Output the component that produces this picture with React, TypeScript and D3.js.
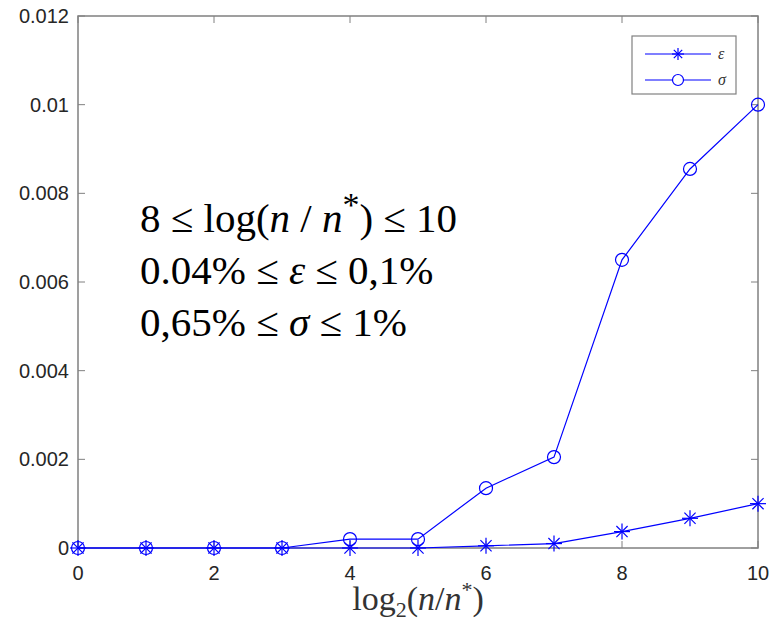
import React from "react";
import * as d3 from "d3";

const xs = [0, 1, 2, 3, 4, 5, 6, 7, 8, 9, 10];
const epsilon = [0, 0, 0, 0, 0, 0, 0.00005, 0.0001, 0.00037, 0.00067, 0.001];
const sigma = [0, 0, 0, 0, 0.0002, 0.0002, 0.00135, 0.00205, 0.0065, 0.00855, 0.01];
const xTicks = [0, 2, 4, 6, 8, 10];
const yTicks = [0, 0.002, 0.004, 0.006, 0.008, 0.01, 0.012];
const yTickLabels = ["0", "0.002", "0.004", "0.006", "0.008", "0.01", "0.012"];

const L = 78, R = 758, T = 16, B = 548;
const BLUE = "#0000ff";

function Star({ x, y, r = 8 }: { x: number; y: number; r?: number }) {
  const d = r * 0.7;
  return (
    <g stroke={BLUE} strokeWidth={1.2}>
      <line x1={x - r} y1={y} x2={x + r} y2={y} />
      <line x1={x} y1={y - r} x2={x} y2={y + r} />
      <line x1={x - d} y1={y - d} x2={x + d} y2={y + d} />
      <line x1={x - d} y1={y + d} x2={x + d} y2={y - d} />
    </g>
  );
}

export default function App() {
  const x = d3.scaleLinear().domain([0, 10]).range([L, R]);
  const y = d3.scaleLinear().domain([0, 0.012]).range([B, T]);
  const line = d3.line<number>().x((_, i) => x(xs[i])).y((d) => y(d));
  const axisColor = "#808080";
  const tickLen = 7;
  return (
    <svg width={771} height={622} style={{ position: "absolute", left: 0, top: 0, background: "#fff" }}>
      <rect x={0} y={0} width={771} height={622} fill="#fff" />
      {xTicks.map((t) => (
        <g key={"xt" + t} stroke={axisColor}>
          <line x1={x(t)} x2={x(t)} y1={B} y2={B - tickLen} />
          <line x1={x(t)} x2={x(t)} y1={T} y2={T + tickLen} />
        </g>
      ))}
      {yTicks.map((t) => (
        <g key={"yt" + t} stroke={axisColor}>
          <line x1={L} x2={L + tickLen} y1={y(t)} y2={y(t)} />
          <line x1={R} x2={R - tickLen} y1={y(t)} y2={y(t)} />
        </g>
      ))}
      <rect x={L} y={T} width={R - L} height={B - T} fill="none" stroke={axisColor} strokeWidth={1.5} />
      {xTicks.map((t) => (
        <text key={"xl" + t} x={x(t)} y={B + 32} textAnchor="middle" fontFamily="Liberation Sans, Arial, sans-serif" fontSize={20} fill="#262626">
          {t}
        </text>
      ))}
      {yTicks.map((t, i) => (
        <text key={"yl" + t} x={L - 9} y={y(t) + 7} textAnchor="end" fontFamily="Liberation Sans, Arial, sans-serif" fontSize={20} fill="#262626">
          {yTickLabels[i]}
        </text>
      ))}
      <path d={line(sigma) || ""} fill="none" stroke={BLUE} strokeWidth={1.2} />
      <path d={line(epsilon) || ""} fill="none" stroke={BLUE} strokeWidth={1.2} />
      {sigma.map((v, i) => (
        <circle key={"s" + i} cx={x(xs[i])} cy={y(v)} r={6.5} fill="none" stroke={BLUE} strokeWidth={1.2} />
      ))}
      {epsilon.map((v, i) => (
        <Star key={"e" + i} x={x(xs[i])} y={y(v)} />
      ))}
      <rect x={632} y={36} width={104} height={58} fill="#fff" stroke={axisColor} strokeWidth={1.2} />
      <line x1={645} x2={711} y1={54} y2={54} stroke={BLUE} strokeWidth={1.2} />
      <Star x={678} y={54} r={6} />
      <line x1={645} x2={711} y1={80} y2={80} stroke={BLUE} strokeWidth={1.2} />
      <circle cx={678} cy={80} r={5.5} fill="#fff" stroke={BLUE} strokeWidth={1.2} />
      <text x={718} y={59} fontFamily="Liberation Serif, serif" fontStyle="italic" fontSize={16} fill="#333">ε</text>
      <text x={718} y={85} fontFamily="Liberation Serif, serif" fontStyle="italic" fontSize={16} fill="#333">σ</text>
      <g fontFamily="Liberation Serif, Times New Roman, serif" fontSize={41} fill="#000">
        <text x={140} y={232}>
          8 ≤ log(<tspan fontStyle="italic">n</tspan> / <tspan fontStyle="italic">n</tspan>
          <tspan dy={-16} fontSize={34}>*</tspan>
          <tspan dy={16}>) ≤ 10</tspan>
        </text>
        <text x={140} y={284}>
          0.04% ≤ <tspan fontStyle="italic">ε</tspan> ≤ 0,1%
        </text>
        <text x={140} y={336}>
          0,65% ≤ <tspan fontStyle="italic">σ</tspan> ≤ 1%
        </text>
      </g>
      <text x={418} y={610} textAnchor="middle" fontFamily="Liberation Serif, serif" fontSize={34} fill="#333">
        log<tspan fontSize={22} dy={7}>2</tspan>
        <tspan dy={-7}>(</tspan>
        <tspan fontStyle="italic">n</tspan>/<tspan fontStyle="italic">n</tspan>
        <tspan fontSize={22} dy={-13}>*</tspan>
        <tspan dy={13}>)</tspan>
      </text>
    </svg>
  );
}
